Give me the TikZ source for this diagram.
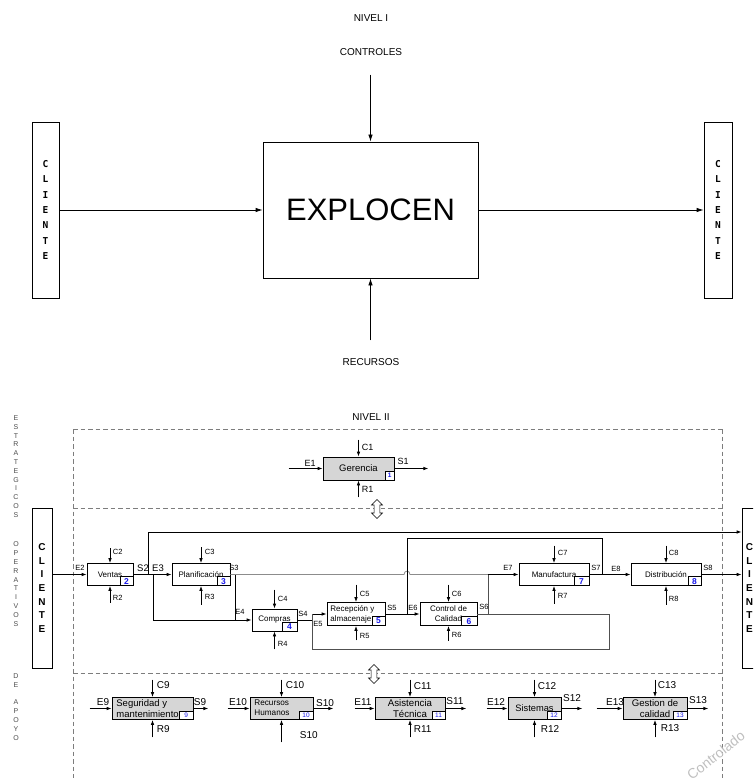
\documentclass[tikz,border=0pt]{standalone}
\usepackage{fontspec}
\setmainfont{Liberation Sans}
\newfontfamily\clifont{DejaVu Sans Mono}
\usetikzlibrary{arrows.meta,calc,shapes.arrows}
\definecolor{boxgray}{RGB}{214,214,214}
\definecolor{numblue}{RGB}{25,25,235}
\definecolor{dashgray}{RGB}{125,125,125}
\definecolor{lightline}{RGB}{140,140,140}
\definecolor{darkline}{RGB}{80,80,80}
\begin{document}
\begin{tikzpicture}[x=1pt,y=-1pt, line width=0.8pt,
  fs/.style={font=\fontsize{#1}{#1}\selectfont},
  arr/.style={-{Latex[length=5pt,width=3.6pt]}},
  bigarr/.style={-{Latex[length=7pt,width=4.5pt]}},
  box/.style={draw, inner sep=0pt, align=center},
  gbox/.style={box, fill=boxgray},
  numbox/.style={draw, fill=white, line width=0.6pt, inner sep=0pt, minimum width=13pt, minimum height=9pt, anchor=south east, text=numblue, font=\fontsize{8.5}{8.5}\selectfont\bfseries},
  snumbox/.style={draw, fill=white, line width=0.6pt, inner sep=0pt, minimum width=14pt, minimum height=8pt, anchor=south east, text=numblue, font=\fontsize{6.5}{6.5}\selectfont},
  lab/.style={inner sep=0.5pt, font=\fontsize{7.5}{7.5}\selectfont},
  glab/.style={inner sep=0.5pt, font=\fontsize{9}{9}\selectfont},
  blab/.style={inner sep=0.5pt, font=\fontsize{9.5}{9.5}\selectfont},
  slab/.style={inner sep=0.5pt, font=\fontsize{10}{10}\selectfont},
  dsh/.style={draw=dashgray, dash pattern=on 4.5pt off 3pt, line width=0.9pt},
  vtext/.style={align=center, text=black!70, font=\fontsize{7}{8.8}\selectfont, inner sep=0pt},
  cli1/.style={align=center, inner sep=0pt, font=\fontsize{9.5}{15.3}\selectfont\clifont\bfseries},
  cli2/.style={align=center, inner sep=0pt, font=\fontsize{10}{13.7}\selectfont\bfseries},
  dbl/.style={double arrow, draw, fill=white, line width=0.6pt, rotate=90, minimum height=19pt, minimum width=11pt, inner sep=2.6pt, double arrow head extend=2.6pt},
]
\useasboundingbox (0,0) rectangle (753,778);
\clip (0,0) rectangle (753,778);

% ---------------- NIVEL I ----------------
\node[fs=10] (niv1) at (371,18) {NIVEL I};
\node[fs=10] (ctrl) at (371,52) {CONTROLES};
\node[fs=10] (recu) at (371,362) {RECURSOS};
\node[box, minimum width=215pt, minimum height=136pt, fs=31] (explo) at (370.5,210) {EXPLOCEN};
\node[box, minimum width=27pt, minimum height=176pt] (cliL) at (45.5,210) {};
\node[box, minimum width=28pt, minimum height=176pt] (cliR) at (718,210) {};
\node[cli1] (cliLt) at (cliL) {C\\L\\I\\E\\N\\T\\E};
\node[cli1] (cliRt) at (cliR) {C\\L\\I\\E\\N\\T\\E};
\draw[bigarr] ($(explo.north)+(0,-67)$) -- (explo.north);
\draw[bigarr] ($(explo.south)+(0,62)$) -- (explo.south);
\draw[bigarr] (cliL.east) -- (explo.west);
\draw[bigarr] (explo.east) -- (cliR.west);

% ---------------- NIVEL II frame ----------------
\node[fs=10] (niv2) at (371,417) {NIVEL II};
\draw[dsh] (73,429) -- (722,429);
\draw[dsh] (73,508) -- (724,508);
\draw[dsh] (73,673) -- (722,673);
\draw[dsh] (73,429) -- (73,780);
\draw[dsh] (722,429) -- (722,780);

\node[vtext] (vest) at (16,466.5) {E\\S\\T\\R\\A\\T\\E\\G\\I\\C\\O\\S};
\node[vtext] (vop) at (16,584) {O\\P\\E\\R\\A\\T\\I\\V\\O\\S};
\node[vtext] (vap) at (16,707) {D\\E\\[8.8pt]A\\P\\O\\Y\\O};

% ---------------- Gerencia ----------------
\node[gbox, minimum width=71pt, minimum height=23pt, fs=9.5] (ger) at (358.5,468.5) {Gerencia};
\node[numbox, minimum width=9pt, minimum height=9pt, font=\fontsize{6.5}{6.5}\selectfont\bfseries] (n1) at (ger.south east) {1};
\draw[arr] ($(ger.north)+(0,-17)$) -- (ger.north);
\node[glab, anchor=west] (tC1) at (361,447) {C1};
\draw[arr] ($(ger.south)+(0,17)$) -- (ger.south);
\node[glab, anchor=west] (tR1) at (361,489) {R1};
\draw[arr] ($(ger.west)+(-34,0)$) -- (ger.west);
\node[glab] (tE1) at (310,463.5) {E1};
\draw[arr] (ger.east) -- ($(ger.east)+(34,0)$);
\node[glab] (tS1) at (403,461) {S1};

\node[dbl] (da1) at (377,509) {};

% ---------------- Operativos ----------------
\node[box, minimum width=20pt, minimum height=160pt] (cliB) at (42,588) {};
\node[cli2] (cliBt) at (cliB) {C\\L\\I\\E\\N\\T\\E};
\node[box, minimum width=28pt, minimum height=160pt] (cliC) at (756,588) {};
\node[cli2] (cliCt) at (749.5,588) {C\\L\\I\\E\\N\\T\\E};

\node[box, minimum width=46pt, minimum height=22pt, fs=8] (ven) at (110,574.5) {Ventas};
\node[box, minimum width=58pt, minimum height=22pt, fs=8] (pla) at (201,574.5) {Planificación};
\node[box, minimum width=45pt, minimum height=22pt, fs=8] (com) at (274.5,620) {Compras};
\node[box, minimum width=58pt, minimum height=23pt] (rec) at (356,614) {};
\node[anchor=west, align=left, inner sep=0pt, font=\fontsize{8}{10.5}\selectfont] (recT) at (330,614.5) {Recepción y\\almacenaje};
\node[box, minimum width=57pt, minimum height=23pt, font=\fontsize{8}{10}\selectfont] (con) at (448.5,614) {Control de\\Calidad};
\node[box, minimum width=70pt, minimum height=22pt, fs=8] (man) at (554,574.5) {Manufactura};
\node[box, minimum width=70pt, minimum height=22pt, fs=8] (dis) at (666,574.5) {Distribución};

\node[numbox] (n2) at (ven.south east) {2};
\node[numbox] (n3) at (pla.south east) {3};
\node[numbox, minimum width=15pt] (n4) at (com.south east) {4};
\node[numbox] (n5) at (rec.south east) {5};
\node[numbox, minimum width=16pt] (n6) at (con.south east) {6};
\node[numbox, minimum width=15pt] (n7) at (man.south east) {7};
\node[numbox] (n8) at (dis.south east) {8};

% controls and resources
\draw[arr] ($(ven.north)+(0,-15)$) -- (ven.north);
\node[lab, anchor=west] (tC2) at (112,552) {C2};
\draw[arr] ($(ven.south)+(0,17)$) -- (ven.south);
\node[lab, anchor=west] (tR2) at (112,598) {R2};
\draw[arr] ($(pla.north)+(0,-16)$) -- (pla.north);
\node[lab, anchor=west] (tC3) at (204,552) {C3};
\draw[arr] ($(pla.south)+(0,19)$) -- (pla.south);
\node[lab, anchor=west] (tR3) at (204,597) {R3};
\draw[arr] ($(com.north)+(0,-19)$) -- (com.north);
\node[lab, anchor=west] (tC4) at (277,599) {C4};
\draw[arr] ($(com.south)+(0,18)$) -- (com.south);
\node[lab, anchor=west] (tR4) at (277,644) {R4};
\draw[arr] ($(rec.north)+(0,-17.5)$) -- (rec.north);
\node[lab, anchor=west] (tC5) at (359,594) {C5};
\draw[arr] ($(rec.south)+(0,14.5)$) -- (rec.south);
\node[lab, anchor=west] (tR5) at (359,636) {R5};
\draw[arr] ($(con.north)+(0,-17.5)$) -- (con.north);
\node[lab, anchor=west] (tC6) at (451,594) {C6};
\draw[arr] ($(con.south)+(0,15)$) -- (con.south);
\node[lab, anchor=west] (tR6) at (451,635) {R6};
\draw[arr] ($(man.north)+(0,-17.5)$) -- (man.north);
\node[lab, anchor=west] (tC7) at (557,553) {C7};
\draw[arr] ($(man.south)+(0,18)$) -- (man.south);
\node[lab, anchor=west] (tR7) at (557,596) {R7};
\draw[arr] ($(dis.north)+(0,-17.5)$) -- (dis.north);
\node[lab, anchor=west] (tC8) at (668,553) {C8};
\draw[arr] ($(dis.south)+(0,19)$) -- (dis.south);
\node[lab, anchor=west] (tR8) at (668,599) {R8};

% junctions
\coordinate (jA) at (148,532);
\coordinate (jC) at (153,620);
\coordinate (jD) at (235,620);
\coordinate (jE) at (488,574.5);
\coordinate (jF) at (488,614);
\coordinate (jG) at (609,614);
\coordinate (jH) at (609,649);
\coordinate (jI) at (312,649);
\coordinate (jK) at (312,614);
\coordinate (jM) at (602,574.5);
\coordinate (jN) at (602,538);
\coordinate (jO) at (407,538);

% connectors
\draw[arr] (cliB.east |- ven.west) -- (ven.west);
\draw[arr] (ven.east) -- (pla.west);
\draw[arr] (jA |- ven.east) -- (jA) -- (jA -| cliC.west);
\draw[arr] (jC |- ven.east) -- (jC) -- (com.west);
\draw (jD |- pla.east) -- (jD);
\draw[lightline] (pla.east) -- ($(jO |- pla.east)+(-3,0)$) .. controls +(0,-4.5) and +(0,-4.5) .. ($(jO |- pla.east)+(3,0)$) -- (jE);
\draw[arr] (jE) -- (man.west);
\draw[darkline] (jF) -- (jE);
\draw (com.east) -- (com.east -| jK);
\draw[arr] (jK) -- (rec.west);
\draw[darkline] (con.east) -- (jG) -- (jH) -- (jI) -- (jK);
\draw[arr] (rec.east) -- (con.west);
\draw (man.east) -- (jM) -- (jN) -- (jO) -- (jO |- con.west);
\draw[arr] (jM) -- (dis.west);
\draw[arr] (dis.east) -- (dis.east -| cliC.west);

% connector labels
\node[lab] (tE2) at (80,568) {E2};
\node[blab] (tS2) at (143,568.5) {S2};
\node[blab] (tE3) at (158,568.5) {E3};
\node[lab] (tS3) at (234,568) {S3};
\node[lab] (tE4) at (240,612) {E4};
\node[lab] (tS4) at (303,614) {S4};
\node[lab] (tE5) at (318,624) {E5};
\node[lab] (tS5) at (392,608) {S5};
\node[lab] (tE6) at (413,608) {E6};
\node[lab] (tS6) at (484,607) {S6};
\node[lab] (tE7) at (508,568) {E7};
\node[lab] (tS7) at (596,568) {S7};
\node[lab] (tE8) at (616,569) {E8};
\node[lab] (tS8) at (708,568) {S8};

\node[dbl] (da2) at (374,674) {};

% ---------------- De apoyo ----------------
\node[gbox, minimum width=81pt, minimum height=22pt] (seg) at (152.5,708.5) {};
\node[anchor=west, align=left, inner sep=0pt, font=\fontsize{9.5}{11}\selectfont] (segT) at (116,708.5) {Seguridad y\\mantenimiento};
\node[snumbox] (n9) at (seg.south east) {9};

\node[gbox, minimum width=63pt, minimum height=22pt] (rh) at (281.5,708.5) {};
\node[anchor=west, align=left, inner sep=0pt, font=\fontsize{8.2}{10}\selectfont] (rhT) at (254,708) {Recursos\\Humanos};
\node[snumbox] (n10) at (rh.south east) {10};

\node[gbox, minimum width=70pt, minimum height=22pt, font=\fontsize{9.7}{11.5}\selectfont] (asi) at (410,708.5) {Asistencia\\Técnica};
\node[snumbox, minimum width=13pt] (n11) at (asi.south east) {11};

\node[gbox, minimum width=53pt, minimum height=22pt, fs=9.3] (sis) at (534.5,708.5) {Sistemas};
\node[snumbox] (n12) at (sis.south east) {12};

\node[gbox, minimum width=64pt, minimum height=22pt, font=\fontsize{9.6}{11.5}\selectfont] (gca) at (655,708.5) {Gestion de\\calidad};
\node[snumbox] (n13) at (gca.south east) {13};

% controls / resources
\draw[arr] ($(seg.north)+(0,-17.5)$) -- (seg.north);
\node[slab, anchor=west] (tC9) at (156,685) {C9};
\draw[arr] ($(seg.south)+(0,17.5)$) -- (seg.south);
\node[slab, anchor=west] (tR9) at (156,729) {R9};
\draw[arr] ($(rh.north)+(0,-17.5)$) -- (rh.north);
\node[slab, anchor=west] (tC10) at (285,685) {C10};
\draw[arr] ($(rh.south)+(0,22.5)$) -- (rh.south);
\node[slab, anchor=west] (tS10b) at (299,735) {S10};
\draw[arr] ($(asi.north)+(0,-17.5)$) -- (asi.north);
\node[slab, anchor=west] (tC11) at (413,686) {C11};
\draw[arr] ($(asi.south)+(0,17.5)$) -- (asi.south);
\node[slab, anchor=west] (tR11) at (413,729) {R11};
\draw[arr] ($(sis.north)+(0,-17.5)$) -- (sis.north);
\node[slab, anchor=west] (tC12) at (537,686) {C12};
\draw[arr] ($(sis.south)+(0,17.5)$) -- (sis.south);
\node[slab, anchor=west] (tR12) at (540,729) {R12};
\draw[arr] ($(gca.north)+(0,-17.5)$) -- (gca.north);
\node[slab, anchor=west] (tC13) at (657,685) {C13};
\draw[arr] ($(gca.south)+(0,17.5)$) -- (gca.south);
\node[slab, anchor=west] (tR13) at (660,728) {R13};

% inputs / outputs
\draw[arr] ($(seg.west)+(-22,0)$) -- (seg.west);
\node[slab] (tE9) at (103,702) {E9};
\draw[arr] (seg.east) -- ($(seg.east)+(15,0)$);
\node[slab] (tS9) at (200,702) {S9};
\draw[arr] ($(rh.west)+(-22,0)$) -- (rh.west);
\node[slab] (tE10) at (238,702) {E10};
\draw[arr] (rh.east) -- ($(rh.east)+(20,0)$);
\node[slab] (tS10) at (325,703) {S10};
\draw[arr] ($(asi.west)+(-20,0)$) -- (asi.west);
\node[slab] (tE11) at (363,702) {E11};
\draw[arr] (asi.east) -- ($(asi.east)+(21,0)$);
\node[slab] (tS11) at (455,701) {S11};
\draw[arr] ($(sis.west)+(-21,0)$) -- (sis.west);
\node[slab] (tE12) at (496,702) {E12};
\draw[arr] (sis.east) -- ($(sis.east)+(21,0)$);
\node[slab] (tS12) at (572,698) {S12};
\draw[arr] ($(gca.west)+(-26,0)$) -- (gca.west);
\node[slab] (tE13) at (615,702) {E13};
\draw[arr] (gca.east) -- ($(gca.east)+(21,0)$);
\node[slab] (tS13) at (698,700) {S13};

% watermark
\node[rotate=38, anchor=south west, text=black!25, fs=14, inner sep=0pt] (wm) at (692,781) {Controlado};
\end{tikzpicture}
\end{document}
